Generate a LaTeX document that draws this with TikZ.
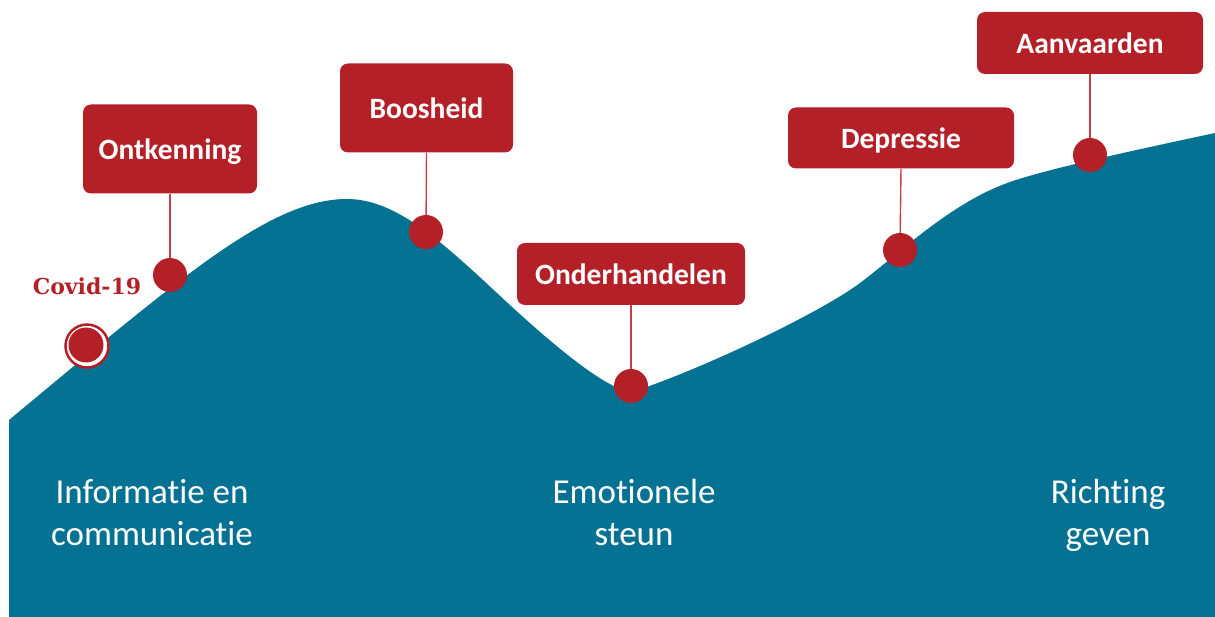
\documentclass[tikz,border=0pt]{standalone}
\usepackage{fontspec}
\setmainfont{Carlito}[Ligatures={NoCommon}]
\newfontfamily\slabfont{DejaVu Serif}
\definecolor{wavecol}{RGB}{5,114,147}
\definecolor{boxred}{RGB}{180,32,39}
\begin{document}
\begin{tikzpicture}[x=1pt,y=-1pt,
  stagebox/.style={fill=boxred, rounded corners=8pt, text=white, font=\bfseries\fontsize{29.5}{32}\selectfont, inner sep=0pt, text depth=0pt},
  dot/.style={circle, fill=boxred, minimum size=34pt, inner sep=0pt},
  conn/.style={draw=boxred!85!white, line width=1.4pt},
  bottomtext/.style={text=white, font=\fontsize{35}{42}\selectfont, align=center},
]
\useasboundingbox (0,0) rectangle (1215,617);
% wave
\fill[wavecol] (9,617) -- (9,420)
  .. controls (180,278) and (270,199) .. (347,199)
  .. controls (395,199) and (440,240) .. (497,293)
  .. controls (545,338) and (605,390) .. (632,392)
  .. controls (700,370) and (820,313) .. (860,283)
  .. controls (900,253) and (950,203) .. (1010,182)
  .. controls (1050,168) and (1150,147) .. (1215,133)
  -- (1215,617) -- cycle;

% boxes
\node[stagebox, minimum width=174pt, minimum height=89pt] (b1) at (170,149) {Ontkenning};
\node[stagebox, minimum width=173pt, minimum height=89pt] (b2) at (426.5,108) {Boosheid};
\node[stagebox, minimum width=228pt, minimum height=62pt] (b3) at (631,274) {Onderhandelen};
\node[stagebox, minimum width=226pt, minimum height=61pt] (b4) at (901,138) {Depressie};
\node[stagebox, minimum width=226pt, minimum height=62pt] (b5) at (1090,43) {Aanvaarden};

% dots
\coordinate (p1) at (170,275);
\coordinate (p2) at (426,232);
\coordinate (p3) at (631,386);
\coordinate (p4) at (900,250);
\coordinate (p5) at (1090,155);
\draw[conn] (b1.south) -- (p1);
\draw[conn] (b2.south) -- (p2);
\draw[conn] (b3.south) -- (p3);
\draw[conn] (b4.south) -- (p4);
\draw[conn] (b5.south) -- (p5);
\node[dot] (d1) at (p1) {};
\node[dot] (d2) at (p2) {};
\node[dot] (d3) at (p3) {};
\node[dot] (d4) at (p4) {};
\node[dot] (d5) at (p5) {};

% covid marker
\node[circle, draw=boxred, fill=white, line width=2.5pt, minimum size=43pt, inner sep=0pt] (cring) at (87,346) {};
\node[dot, minimum size=35pt] (cdot) at (86,345) {};
\node[text=boxred, font=\slabfont\bfseries\fontsize{22}{24}\selectfont] (covid) at (87,286) {Covid-19};

% bottom texts
\node[bottomtext] (t1) at (152,515.6) {\strut Informatie en\\communicatie\strut};
\node[bottomtext] (t2) at (634,515.6) {\strut Emotionele\\steun\strut};
\node[bottomtext] (t3) at (1108,515.6) {\strut Richting\\geven\strut};
\end{tikzpicture}
\end{document}
